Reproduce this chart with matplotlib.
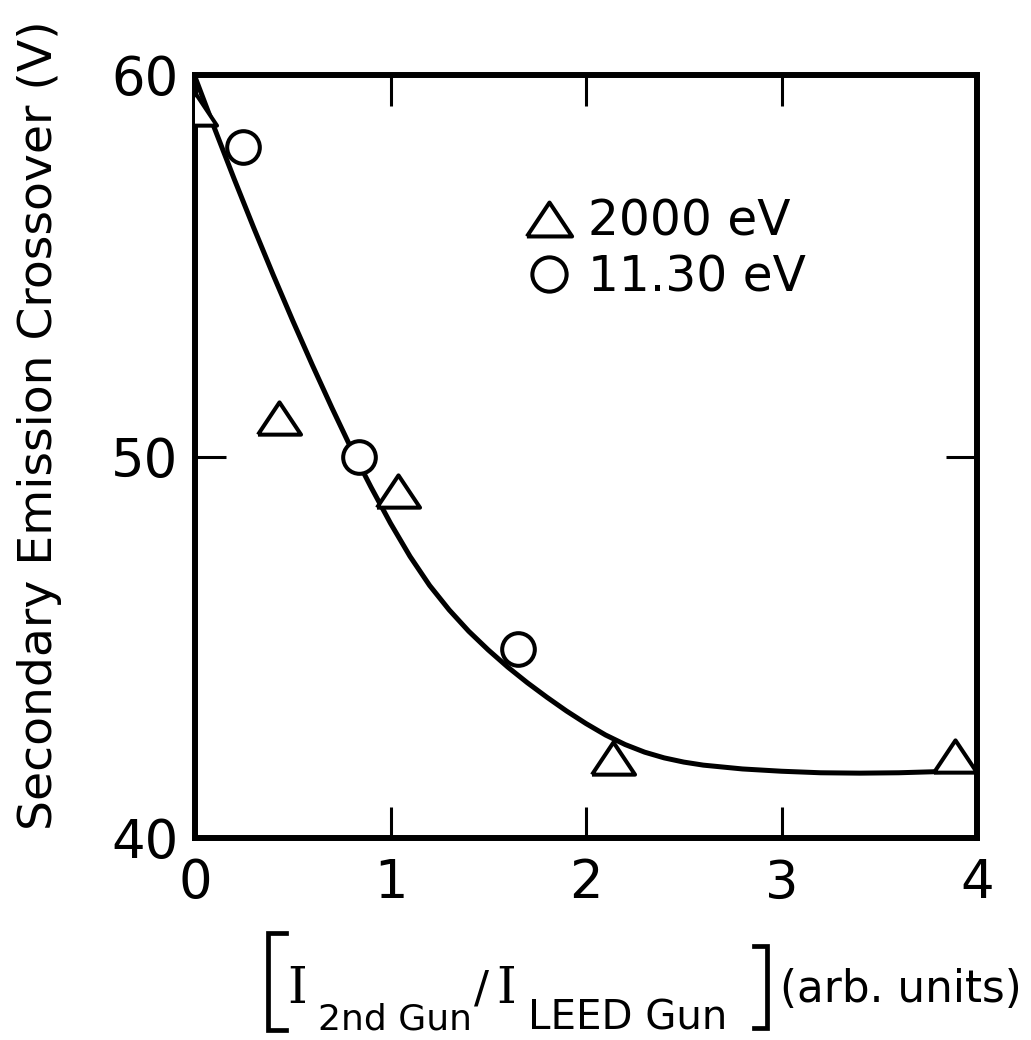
import matplotlib
matplotlib.use("Agg")
import matplotlib.pyplot as plt
from matplotlib.lines import Line2D

# ---- data ----
tri_label = "2000 eV"
tri_x = [0.0, 0.43, 1.04, 2.14, 3.89]
tri_y = [59.1, 51.0, 49.1, 42.1, 42.15]

circ_label = "11.30 eV"
circ_x = [0.245, 0.84, 1.65]
circ_y = [58.1, 50.0, 44.95]

curve_x = [0.0, 0.1, 0.2, 0.3, 0.4, 0.5, 0.6, 0.7, 0.8, 0.9, 1.0, 1.1, 1.2, 1.3,
           1.4, 1.5, 1.6, 1.7, 1.8, 1.9, 2.0, 2.1, 2.2, 2.3, 2.4, 2.5, 2.6, 2.8,
           3.0, 3.2, 3.4, 3.6, 3.8, 4.0]
curve_y = [59.95, 58.6, 57.28, 56.0, 54.76, 53.56, 52.4, 51.28, 50.2, 49.2, 48.25,
           47.38, 46.62, 45.98, 45.42, 44.93, 44.48, 44.07, 43.69, 43.33, 43.0, 42.7,
           42.45, 42.25, 42.1, 41.99, 41.91, 41.81, 41.75, 41.71, 41.70, 41.71, 41.74,
           41.77]

x_ticks = [0, 1, 2, 3, 4]
y_ticks = [40, 50, 60]
y_label = "Secondary Emission Crossover (V)"

W, H = 1031, 1040
fig = plt.figure(figsize=(W / 100, H / 100), dpi=100)
plt.rcParams['font.family'] = ['DejaVu Sans']

L, R, T, B = 195, 977, 75, 838
ax = fig.add_axes([L / W, 1 - B / H, (R - L) / W, (B - T) / H])
ax.set_xlim(0, 4)
ax.set_ylim(40, 60)

tri_marker = [(-1.0, -0.75), (1.0, -0.75), (0.0, 0.75), (-1.0, -0.75)]

ax.plot(curve_x, curve_y, color='black', lw=3.6, solid_capstyle='round',
        solid_joinstyle='round', zorder=2)
ax.plot(tri_x, tri_y, linestyle='none', marker=tri_marker, ms=31, mfc='white',
        mec='black', mew=2.9, label=tri_label, zorder=3)
ax.plot(circ_x, circ_y, linestyle='none', marker='o', ms=23.5, mfc='white',
        mec='black', mew=2.9, label=circ_label, zorder=3)

for s in ax.spines.values():
    s.set_linewidth(4.3)

ax.set_xticks(x_ticks)
ax.set_yticks(y_ticks)
ax.set_xticklabels([str(v) for v in x_ticks])
ax.set_yticklabels([str(v) for v in y_ticks])
ax.tick_params(axis='both', direction='in', length=22, width=2.2,
               top=True, right=True, labelsize=38)
ax.tick_params(axis='x', pad=14)
ax.tick_params(axis='y', pad=12)

leg = ax.legend(loc='upper left', bbox_to_anchor=(0.425, 0.839), frameon=False,
                fontsize=35, handlelength=0.9, handletextpad=0.35,
                labelspacing=0.15, borderpad=0, borderaxespad=0,
                markerscale=1.05, numpoints=1)

# y label
fig.text(40 / W, 1 - 425 / H, y_label, rotation=90, ha='center', va='center',
         fontsize=34)

# x label assembled from pieces
def fy(py):
    return 1 - py / H

fig.text(287 / W, fy(1003), "I", family='DejaVu Serif', fontsize=36, va='baseline', ha='left')
fig.text(318 / W, fy(1029), "2nd Gun", fontsize=26, va='baseline', ha='left')
fig.text(474 / W, fy(1003), "/", fontsize=32, va='baseline', ha='left')
fig.text(496 / W, fy(1003), "I", family='DejaVu Serif', fontsize=36, va='baseline', ha='left')
fig.text(528 / W, fy(1029), "LEED Gun", fontsize=29, va='baseline', ha='left')
fig.text(780 / W, fy(1002), "(arb. units)", fontsize=31.5, va='baseline', ha='left')

# brackets
def bracket(x_stem, x_end, y0, y1):
    xs = [x_end / W, x_stem / W, x_stem / W, x_end / W]
    ys = [fy(y0), fy(y0), fy(y1), fy(y1)]
    fig.add_artist(Line2D(xs, ys, color='black', lw=3.4, solid_joinstyle='miter'))

bracket(268, 286, 933, 1030)
bracket(767, 754, 946, 1028)

fig.savefig("out.png", dpi=100)
